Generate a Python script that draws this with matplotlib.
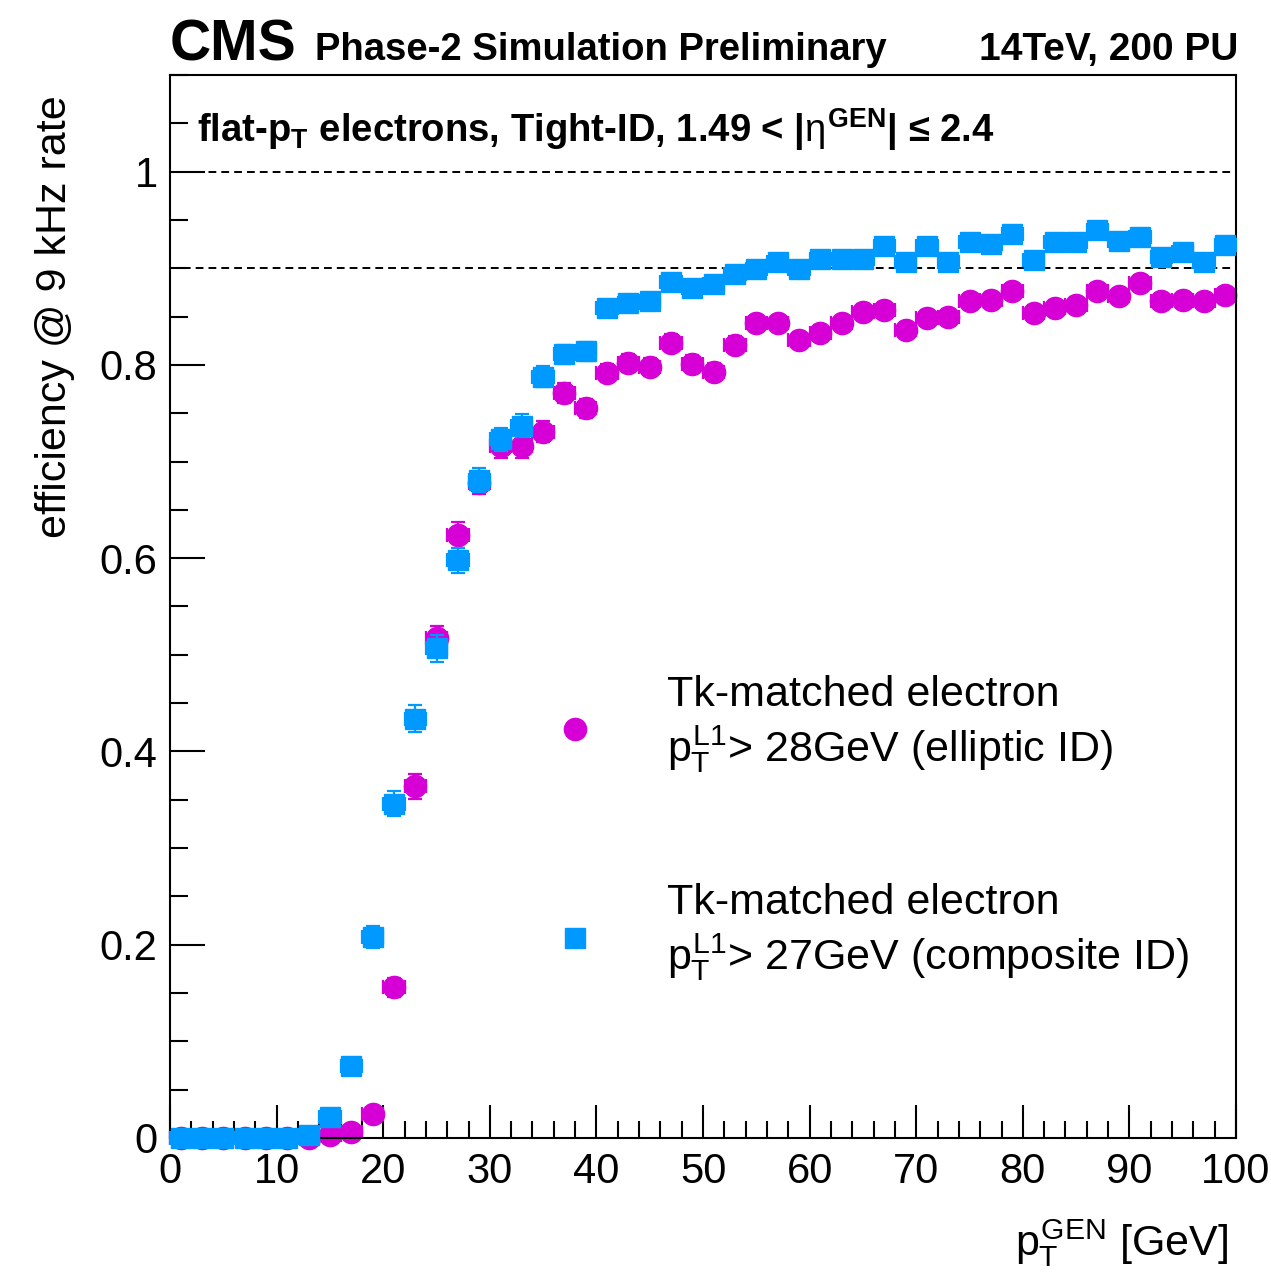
"""
Efficiency at 9 kHz rate vs generated electron pT, for the two L1 electron IDs.
"""

# %%
import matplotlib.pyplot as plt
from matplotlib.lines import Line2D
from matplotlib.legend_handler import HandlerLine2D
from matplotlib.ticker import MultipleLocator

plt.rcParams['font.family'] = ['Liberation Sans', 'DejaVu Sans']
plt.rcParams['mathtext.fontset'] = 'custom'
plt.rcParams['mathtext.rm'] = 'Liberation Sans'
plt.rcParams['mathtext.it'] = 'Liberation Sans'
plt.rcParams['mathtext.bf'] = 'Liberation Sans:bold'

# %%
# bin centers of the generated pT (2 GeV bins)
pt_gen = [1, 3, 5, 7, 9, 11, 13, 15, 17, 19,
          21, 23, 25, 27, 29, 31, 33, 35, 37, 39,
          41, 43, 45, 47, 49, 51, 53, 55, 57, 59,
          61, 63, 65, 67, 69, 71, 73, 75, 77, 79,
          81, 83, 85, 87, 89, 91, 93, 95, 97, 99]

# elliptic ID, pT(L1) > 28 GeV
eff_elliptic = [0.0, 0.0, 0.0, 0.0, 0.0, 0.0, 0.0, 0.003, 0.006, 0.025,
                0.156, 0.364, 0.517, 0.624, 0.678, 0.716, 0.716, 0.731, 0.771, 0.755,
                0.792, 0.802, 0.798, 0.823, 0.801, 0.793, 0.821, 0.843, 0.843, 0.826,
                0.833, 0.843, 0.855, 0.857, 0.836, 0.849, 0.850, 0.866, 0.867, 0.876,
                0.854, 0.859, 0.862, 0.877, 0.871, 0.885, 0.866, 0.867, 0.866, 0.872]
err_elliptic = [0.001, 0.001, 0.001, 0.001, 0.001, 0.001, 0.001, 0.002, 0.003, 0.006,
                0.010, 0.013, 0.013, 0.013, 0.012, 0.012, 0.012, 0.011, 0.010, 0.010,
                0.009, 0.009, 0.009, 0.009, 0.009, 0.009, 0.009, 0.008, 0.008, 0.008,
                0.008, 0.008, 0.008, 0.008, 0.008, 0.008, 0.008, 0.008, 0.008, 0.008,
                0.008, 0.008, 0.008, 0.008, 0.008, 0.008, 0.008, 0.008, 0.008, 0.008]

# composite ID, pT(L1) > 27 GeV
eff_composite = [0.0, 0.0, 0.0, 0.0, 0.0, 0.0, 0.003, 0.022, 0.074, 0.208,
                 0.346, 0.434, 0.507, 0.598, 0.681, 0.723, 0.737, 0.788, 0.811, 0.814,
                 0.859, 0.864, 0.866, 0.886, 0.880, 0.884, 0.894, 0.899, 0.907, 0.899,
                 0.910, 0.910, 0.910, 0.923, 0.907, 0.923, 0.907, 0.927, 0.925, 0.935,
                 0.909, 0.927, 0.927, 0.940, 0.928, 0.932, 0.912, 0.917, 0.907, 0.924]
err_composite = [0.001, 0.001, 0.001, 0.001, 0.001, 0.001, 0.002, 0.004, 0.007, 0.011,
                 0.013, 0.014, 0.014, 0.013, 0.012, 0.012, 0.012, 0.011, 0.010, 0.010,
                 0.008, 0.008, 0.008, 0.008, 0.008, 0.008, 0.007, 0.007, 0.007, 0.007,
                 0.007, 0.007, 0.007, 0.007, 0.007, 0.007, 0.007, 0.007, 0.007, 0.007,
                 0.007, 0.007, 0.007, 0.007, 0.007, 0.007, 0.007, 0.007, 0.007, 0.007]

bin_half_width = 1.0
ref_lines = [1.0, 0.9]

magenta = '#d600d6'
blue = '#0099ff'


# legend markers sit a bit below the middle of the two text lines (ROOT style)
class LoweredMarker(HandlerLine2D):
    def create_artists(self, legend, orig_handle, xdescent, ydescent,
                       width, height, fontsize, trans):
        arts = super().create_artists(legend, orig_handle, xdescent, ydescent,
                                      width, height, fontsize, trans)
        for a in arts:
            a.set_ydata([y - 3 for y in a.get_ydata()])
        return arts


# %%
fig = plt.figure(figsize=(12.71, 12.74), dpi=100)
ax = fig.add_axes([0.1338, 0.1068, 0.9725 - 0.1338, 0.9411 - 0.1068])

for y in ref_lines:
    ax.axhline(y, color='black', ls=(0, (4, 2.6)), lw=1.4, zorder=1)

ax.errorbar(pt_gen, eff_elliptic, yerr=err_elliptic, xerr=bin_half_width,
            fmt='o', color=magenta, ms=16, elinewidth=1.6, capsize=5, capthick=1.6,
            zorder=2, clip_on=False)
ax.errorbar(pt_gen, eff_composite, yerr=err_composite, xerr=bin_half_width,
            fmt='s', color=blue, ms=14, elinewidth=1.6, capsize=5, capthick=1.6,
            zorder=3, clip_on=False)

ax.set_xlim(0, 100)
ax.set_ylim(0, 1.1)
ax.xaxis.set_major_locator(MultipleLocator(10))
ax.xaxis.set_minor_locator(MultipleLocator(2))
ax.yaxis.set_major_locator(MultipleLocator(0.2))
ax.yaxis.set_minor_locator(MultipleLocator(0.05))
ax.set_yticks([0, 0.2, 0.4, 0.6, 0.8, 1.0])
ax.set_yticklabels(['0', '0.2', '0.4', '0.6', '0.8', '1'])
ax.tick_params(axis='both', which='both', direction='in', width=1.5,
               top=False, right=False, labelsize=30)
ax.tick_params(axis='x', which='major', length=24, pad=10)
ax.tick_params(axis='x', which='minor', length=12)
ax.tick_params(axis='y', which='major', length=25, pad=9)
ax.tick_params(axis='y', which='minor', length=13)
for s in ax.spines.values():
    s.set_linewidth(1.5)

# labels
fig.text(0.0433, 0.9254, 'efficiency @ 9 kHz rate', rotation=90,
         ha='center', va='top', fontsize=31)
fig.text(0.9662, 0.0149, r'$p_T^{GEN}$ [GeV]', ha='right', va='baseline', fontsize=31)

fig.text(0.1338, 0.9529, 'CMS', fontsize=41, fontweight='bold', va='baseline')
fig.text(0.2478, 0.9529, 'Phase-2 Simulation Preliminary', fontsize=27.5,
         fontweight='bold', va='baseline')
fig.text(0.974, 0.9529, '14TeV, 200 PU', fontsize=28, fontweight='bold',
         ha='right', va='baseline')

ax.text(0.0253, 0.937,
        r'flat-p$_{\mathbf{T}}$ electrons, Tight-ID, 1.49 < |$\eta^{\mathbf{GEN}}$| ≤ 2.4',
        transform=ax.transAxes, fontsize=27.5, fontweight='bold', va='baseline')

# legend
handles = [
    Line2D([], [], ls='none', marker='o', color=magenta, ms=16),
    Line2D([], [], ls='none', marker='s', color=blue, ms=14),
]
labels = [
    'Tk-matched electron\n' + r'$p_T^{L1}$> 28GeV (elliptic ID)',
    'Tk-matched electron\n' + r'$p_T^{L1}$> 27GeV (composite ID)',
]
ax.legend(handles, labels, loc='upper left', bbox_to_anchor=(0.3396, 0.4355),
          frameon=False, fontsize=31, handlelength=2.0, handletextpad=1.14,
          borderpad=0, borderaxespad=0, labelspacing=2.52,
          handler_map={Line2D: LoweredMarker()})

fig.savefig('out.png', dpi=100)
